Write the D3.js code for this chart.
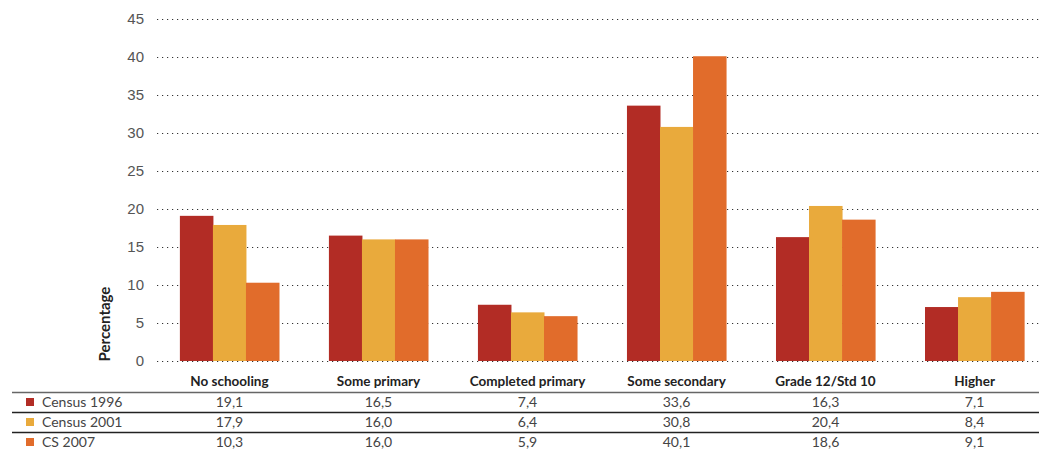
<!DOCTYPE html>
<html>
<head>
<meta charset="utf-8">
<script src="https://d3js.org/d3.v7.min.js"></script>
<style>
  body { margin: 0; background: #fff; }
  svg { display: block; }
</style>
</head>
<body>
<script>
let categories = ["No schooling", "Some primary", "Completed primary", "Some secondary", "Grade 12/Std 10", "Higher"],
    seriesNames = ["Census 1996", "Census 2001", "CS 2007"],
    census1996 = [19.1, 16.5, 7.4, 33.6, 16.3, 7.1],
    census2001 = [17.9, 16.0, 6.4, 30.8, 20.4, 8.4],
    cs2007 = [10.3, 16.0, 5.9, 40.1, 18.6, 9.1],
    yTicks = [0, 5, 10, 15, 20, 25, 30, 35, 40, 45],
    colors = ["#b22c25", "#e9aa3c", "#e16c2b"];

let w = 1039, h = 450;
let series = [census1996, census2001, cs2007];
let fmt = d => d3.format(".1f")(d).replace(".", ",");
let labelFont = "'Century Gothic', 'URW Gothic', Lato, 'Noto Sans', sans-serif";

let svg = d3.select("body").append("svg").attr("width", w).attr("height", h);

let x = d3.scaleBand().domain(categories).range([155, 1049]).paddingInner(0.335).paddingOuter(0.167);
let xs = d3.scaleBand().domain([0, 1, 2]).range([0, x.bandwidth()]);
let y = d3.scaleLinear().domain([0, 45]).range([361, 19]);

// grid
svg.append("g").selectAll("line").data(yTicks).enter().append("line")
  .attr("x1", 157).attr("x2", w)
  .attr("y1", d => y(d) + 0.5).attr("y2", d => y(d) + 0.5)
  .attr("stroke", "#333").attr("stroke-width", 1.2).attr("stroke-dasharray", "1.2,3.8");

// y axis labels
svg.append("g").selectAll("text").data(yTicks).enter().append("text")
  .attr("x", 144).attr("y", d => y(d)).attr("dy", "0.36em")
  .attr("text-anchor", "end")
  .attr("font-family", "'Liberation Sans', Arial, sans-serif").attr("font-size", 15)
  .attr("fill", "#555")
  .text(d => d);

svg.append("text")
  .attr("transform", "translate(110,324) rotate(-90)")
  .attr("text-anchor", "middle")
  .attr("font-family", labelFont).attr("font-size", 15).attr("font-weight", "bold")
  .attr("fill", "#222")
  .text("Percentage");

// bars
series.forEach(function(vals, si){
  svg.append("g").selectAll("rect").data(vals).enter().append("rect")
    .attr("x", (d, i) => x(categories[i]) + xs(si))
    .attr("width", xs.bandwidth() + 0.5)
    .attr("y", d => y(d))
    .attr("height", d => y(0) - y(d))
    .attr("fill", colors[si]);
});

// category labels
svg.append("g").selectAll("text").data(categories).enter().append("text")
  .attr("x", d => x(d) + x.bandwidth() / 2).attr("y", 386)
  .attr("text-anchor", "middle")
  .attr("font-family", labelFont).attr("font-size", 13.5).attr("font-weight", "bold")
  .attr("fill", "#222")
  .text(d => d);

// table lines
let rowTop = [392, 412, 432];
svg.append("g").selectAll("line").data(rowTop).enter().append("line")
  .attr("x1", 12).attr("x2", w)
  .attr("y1", d => d + 0.5).attr("y2", d => d + 0.5)
  .attr("stroke", (d, i) => i == 0 ? "#666" : "#222").attr("stroke-width", 1.5);

// table rows
series.forEach(function(vals, si){
  let cy = rowTop[si] + 10;
  svg.append("rect").attr("x", 26).attr("y", cy - 4).attr("width", 8).attr("height", 8).attr("fill", colors[si]);
  svg.append("text").attr("x", 42).attr("y", cy).attr("dy", "0.35em")
    .attr("font-family", labelFont).attr("font-size", 14).attr("fill", "#444")
    .text(seriesNames[si]);
  svg.append("g").selectAll("text").data(vals).enter().append("text")
    .attr("x", (d, i) => x(categories[i]) + x.bandwidth() / 2).attr("y", cy).attr("dy", "0.35em")
    .attr("text-anchor", "middle")
    .attr("font-family", labelFont).attr("font-size", 14).attr("fill", "#444")
    .text(d => fmt(d));
});
</script>
</body>
</html>
